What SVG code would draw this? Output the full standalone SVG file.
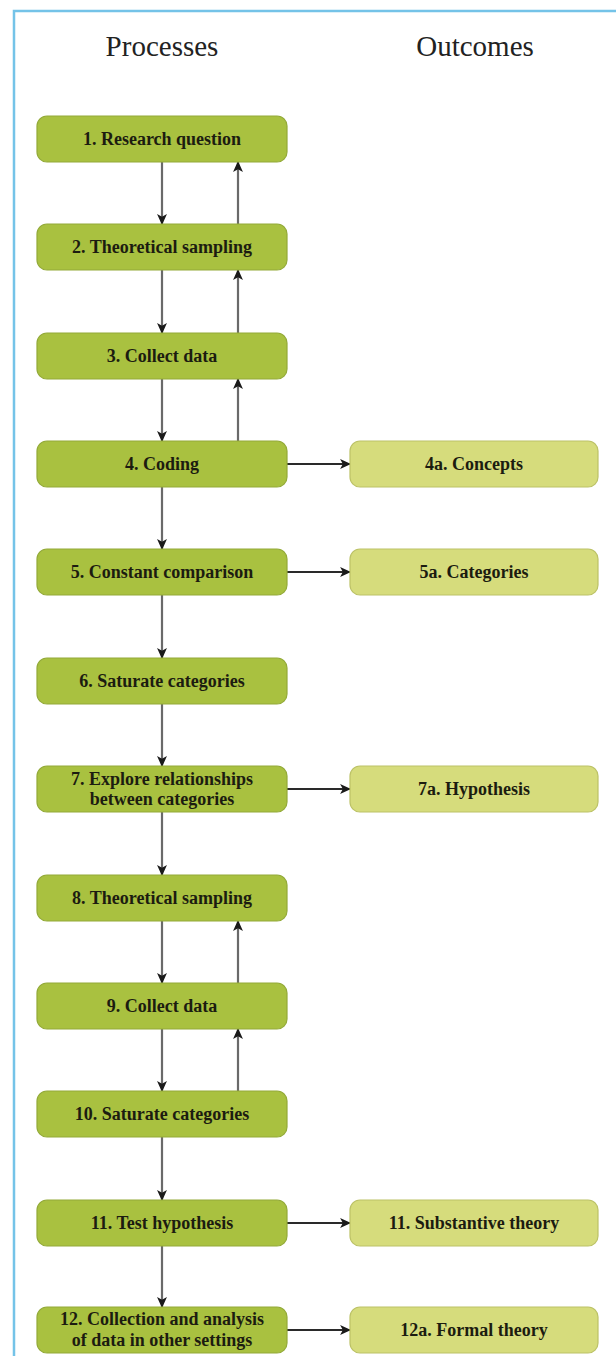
<svg xmlns="http://www.w3.org/2000/svg" width="616" height="1356" viewBox="0 0 616 1356">
<defs>
<style>
.frame{fill:none;stroke:#74c3e8;stroke-width:2.5}
.hdr{font-family:"Liberation Serif",serif;font-size:29px;fill:#222;text-anchor:middle}
.p{fill:#a9c140;stroke:#93aa38;stroke-width:1.2}
.o{fill:#d6dc7c;stroke:#bcc266;stroke-width:1.2}
.t{font-family:"Liberation Serif",serif;font-size:18px;font-weight:bold;fill:#1c1c10;text-anchor:middle}
.v{stroke:#6a6a6a;stroke-width:2.2;fill:none;marker-end:url(#ah)}
.h{stroke:#2a2a2a;stroke-width:2;fill:none;marker-end:url(#ah)}
</style>
<marker id="ah" viewBox="0 0 10 10" refX="9" refY="5" markerWidth="11" markerHeight="11" markerUnits="userSpaceOnUse" orient="auto">
<path d="M0,0.5 L10,5 L0,9.5 L2.5,5 Z" fill="#1a1a1a"/>
</marker>
</defs>
<rect width="616" height="1356" fill="#fff"/>
<path class="frame" d="M14,1356 V11 H616"/>
<text class="hdr" x="162" y="56">Processes</text>
<text class="hdr" x="475" y="56">Outcomes</text>

<g id="connectors">
<line class="v" x1="162" y1="162" x2="162" y2="224"/>
<line class="v" x1="162" y1="270" x2="162" y2="333"/>
<line class="v" x1="162" y1="379" x2="162" y2="441"/>
<line class="v" x1="162" y1="487" x2="162" y2="549"/>
<line class="v" x1="162" y1="595" x2="162" y2="658"/>
<line class="v" x1="162" y1="704" x2="162" y2="766"/>
<line class="v" x1="162" y1="812" x2="162" y2="875"/>
<line class="v" x1="162" y1="921" x2="162" y2="983"/>
<line class="v" x1="162" y1="1029" x2="162" y2="1091"/>
<line class="v" x1="162" y1="1137" x2="162" y2="1200"/>
<line class="v" x1="162" y1="1246" x2="162" y2="1307"/>
<line class="v" x1="238" y1="224" x2="238" y2="162"/>
<line class="v" x1="238" y1="333" x2="238" y2="270"/>
<line class="v" x1="238" y1="441" x2="238" y2="379"/>
<line class="v" x1="238" y1="983" x2="238" y2="921"/>
<line class="v" x1="238" y1="1091" x2="238" y2="1029"/>
<line class="h" x1="287" y1="464" x2="350" y2="464"/>
<line class="h" x1="287" y1="572" x2="350" y2="572"/>
<line class="h" x1="287" y1="789" x2="350" y2="789"/>
<line class="h" x1="287" y1="1223" x2="350" y2="1223"/>
<line class="h" x1="287" y1="1330" x2="350" y2="1330"/>
</g>

<g id="n1"><rect class="p" x="37" y="116" width="250" height="46" rx="10"/><text class="t" x="162" y="145">1. Research question</text></g>
<g id="n2"><rect class="p" x="37" y="224" width="250" height="46" rx="10"/><text class="t" x="162" y="253">2. Theoretical sampling</text></g>
<g id="n3"><rect class="p" x="37" y="333" width="250" height="46" rx="10"/><text class="t" x="162" y="362">3. Collect data</text></g>
<g id="n4"><rect class="p" x="37" y="441" width="250" height="46" rx="10"/><text class="t" x="162" y="470">4. Coding</text></g>
<g id="n5"><rect class="p" x="37" y="549" width="250" height="46" rx="10"/><text class="t" x="162" y="578">5. Constant comparison</text></g>
<g id="n6"><rect class="p" x="37" y="658" width="250" height="46" rx="10"/><text class="t" x="162" y="687">6. Saturate categories</text></g>
<g id="n7"><rect class="p" x="37" y="766" width="250" height="46" rx="10"/><text class="t" x="162" y="785">7. Explore relationships</text><text class="t" x="162" y="805">between categories</text></g>
<g id="n8"><rect class="p" x="37" y="875" width="250" height="46" rx="10"/><text class="t" x="162" y="904">8. Theoretical sampling</text></g>
<g id="n9"><rect class="p" x="37" y="983" width="250" height="46" rx="10"/><text class="t" x="162" y="1012">9. Collect data</text></g>
<g id="n10"><rect class="p" x="37" y="1091" width="250" height="46" rx="10"/><text class="t" x="162" y="1120">10. Saturate categories</text></g>
<g id="n11"><rect class="p" x="37" y="1200" width="250" height="46" rx="10"/><text class="t" x="162" y="1229">11. Test hypothesis</text></g>
<g id="n12"><rect class="p" x="37" y="1307" width="250" height="46" rx="10"/><text class="t" x="162" y="1325">12. Collection and analysis</text><text class="t" x="162" y="1346">of data in other settings</text></g>

<g id="n4a"><rect class="o" x="350" y="441" width="248" height="46" rx="10"/><text class="t" x="474" y="470">4a. Concepts</text></g>
<g id="n5a"><rect class="o" x="350" y="549" width="248" height="46" rx="10"/><text class="t" x="474" y="578">5a. Categories</text></g>
<g id="n7a"><rect class="o" x="350" y="766" width="248" height="46" rx="10"/><text class="t" x="474" y="795">7a. Hypothesis</text></g>
<g id="n11a"><rect class="o" x="350" y="1200" width="248" height="46" rx="10"/><text class="t" x="474" y="1229">11. Substantive theory</text></g>
<g id="n12a"><rect class="o" x="350" y="1307" width="248" height="46" rx="10"/><text class="t" x="474" y="1336">12a. Formal theory</text></g>
</svg>
